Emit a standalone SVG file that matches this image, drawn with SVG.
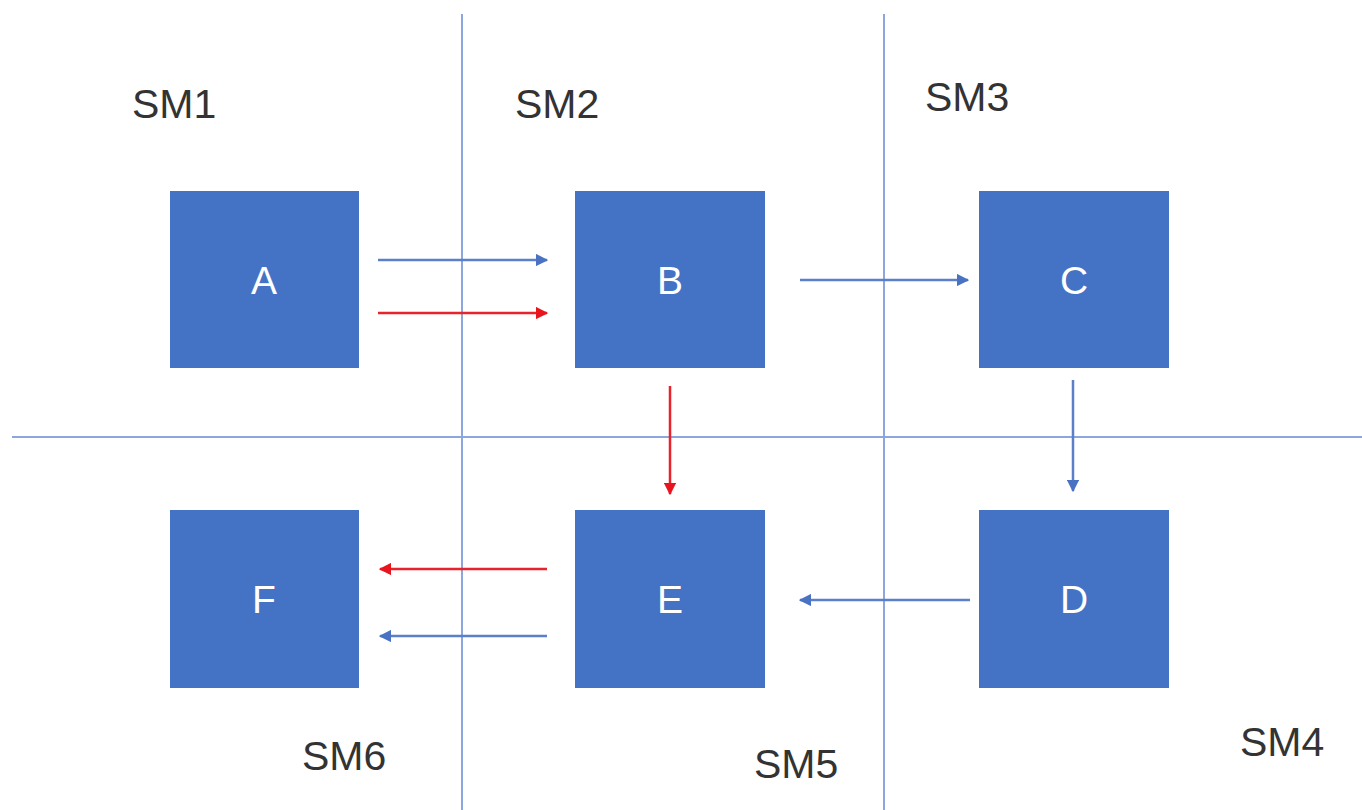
<svg xmlns="http://www.w3.org/2000/svg" width="1362" height="810" viewBox="0 0 1362 810">
  <style>
    .grid { stroke: #8DA6DD; stroke-width: 2; fill: none; }
    .box { fill: #4472C4; }
    .boxlabel { fill: #FFFFFF; font-family: "Liberation Sans", Arial, sans-serif; font-size: 39px; text-anchor: middle; }
    .zone { fill: #333333; font-family: "Liberation Sans", Arial, sans-serif; font-size: 41px; }
    .blue { stroke: #5B7FC8; stroke-width: 2.5; fill: none; marker-end: url(#ab); }
    .red { stroke: #E8232B; stroke-width: 2.5; fill: none; marker-end: url(#ar); }
  </style>
  <defs>
    <marker id="ab" viewBox="0 0 10 10" refX="9" refY="5" markerWidth="5" markerHeight="5" orient="auto" markerUnits="strokeWidth">
      <path d="M0,0 L10,5 L0,10 z" fill="#4A72C2"/>
    </marker>
    <marker id="ar" viewBox="0 0 10 10" refX="9" refY="5" markerWidth="5" markerHeight="5" orient="auto" markerUnits="strokeWidth">
      <path d="M0,0 L10,5 L0,10 z" fill="#E8141E"/>
    </marker>
  </defs>
  <rect width="1362" height="810" fill="#FFFFFF"/>

  <!-- partition lines -->
  <g id="partitions">
    <line class="grid" x1="462" y1="14" x2="462" y2="810"/>
    <line class="grid" x1="884" y1="14" x2="884" y2="810"/>
    <line class="grid" x1="12" y1="437" x2="1362" y2="437"/>
  </g>

  <!-- zone labels -->
  <g id="zones">
    <text class="zone" x="132" y="118">SM1</text>
    <text class="zone" x="515" y="118">SM2</text>
    <text class="zone" x="925" y="111">SM3</text>
    <text class="zone" x="1240" y="756">SM4</text>
    <text class="zone" x="754" y="778">SM5</text>
    <text class="zone" x="302" y="770">SM6</text>
  </g>

  <g id="node-A"><rect class="box" x="170" y="191" width="189" height="177"/><text class="boxlabel" x="264" y="294">A</text></g>
  <g id="node-B"><rect class="box" x="575" y="191" width="190" height="177"/><text class="boxlabel" x="670" y="294">B</text></g>
  <g id="node-C"><rect class="box" x="979" y="191" width="190" height="177"/><text class="boxlabel" x="1074" y="294">C</text></g>
  <g id="node-D"><rect class="box" x="979" y="510" width="190" height="178"/><text class="boxlabel" x="1074" y="613">D</text></g>
  <g id="node-E"><rect class="box" x="575" y="510" width="190" height="178"/><text class="boxlabel" x="670" y="613">E</text></g>
  <g id="node-F"><rect class="box" x="170" y="510" width="189" height="178"/><text class="boxlabel" x="264" y="613">F</text></g>

  <!-- connectors -->
  <g id="connectors">
    <line class="blue" x1="378" y1="260" x2="547" y2="260"/>
    <line class="red" x1="378" y1="313" x2="547" y2="313"/>
    <line class="blue" x1="800" y1="280" x2="968" y2="280"/>
    <line class="blue" x1="1073" y1="380" x2="1073" y2="491"/>
    <line class="red" x1="670" y1="386" x2="670" y2="494"/>
    <line class="blue" x1="970" y1="600" x2="800" y2="600"/>
    <line class="red" x1="547" y1="569" x2="380" y2="569"/>
    <line class="blue" x1="547" y1="636" x2="380" y2="636"/>
  </g>
</svg>
